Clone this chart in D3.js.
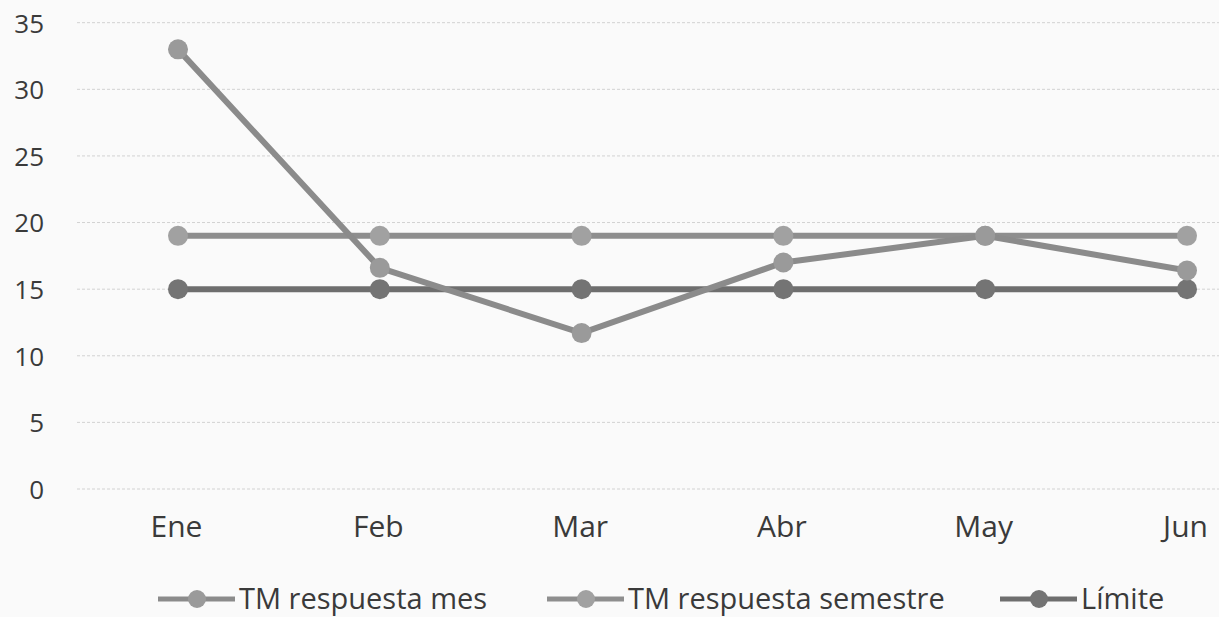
<!DOCTYPE html>
<html>
<head>
<meta charset="utf-8">
<script src="https://cdn.jsdelivr.net/npm/d3@7"></script>
<style>
  body { margin: 0; background: #fafafa; }
  svg { display: block; }
  .tick-text { font-family: "Open Sans", sans-serif; fill: #3a3a3a; }
</style>
</head>
<body>
<svg id="chart" width="1219" height="617"></svg>
<script>
const months = [ "Ene", "Feb", "Mar", "Abr", "May", "Jun" ];
const mesValues = [ 33, 16.6, 11.7, 17, 19, 16.4 ];
const semestreValues = [ 19, 19, 19, 19, 19, 19 ];
const limiteValues = [ 15, 15, 15, 15, 15, 15 ];
const yTicks = [ 0, 5, 10, 15, 20, 25, 30, 35 ];
const seriesNames = [ "TM respuesta mes", "TM respuesta semestre", "Límite" ];

const series = [
    { name: seriesNames[ 0 ], values: mesValues, line: "#8b8b8b", dot: "#9a9a9a" },
    { name: seriesNames[ 1 ], values: semestreValues, line: "#8e8e8e", dot: "#a1a1a1" },
    { name: seriesNames[ 2 ], values: limiteValues, line: "#6e6e6e", dot: "#747474" }
];

const svg = d3.select( "#chart" );

const x = d3.scalePoint()
    .domain( months )
    .range( [ 178, 1187 ] );

const y = d3.scaleLinear()
    .domain( [ 0, 35 ] )
    .range( [ 489, 22.7 ] );

// gridlines
svg.append( "g" )
    .selectAll( "line" )
    .data( yTicks )
    .enter()
    .append( "line" )
    .attr( "x1", 77 )
    .attr( "x2", 1219 )
    .attr( "y1", d => y( d ) )
    .attr( "y2", d => y( d ) )
    .attr( "stroke", "#d2d2d2" )
    .attr( "stroke-width", 1 )
    .attr( "stroke-dasharray", "3,2" );

// y labels
const yAxis = d3.axisLeft( y ).tickValues( yTicks ).tickSize( 0 ).tickPadding( 0 );
const gy = svg.append( "g" )
    .attr( "transform", "translate(44,1)" )
    .call( yAxis );
gy.select( ".domain" ).remove();
gy.selectAll( "text" )
    .attr( "class", "tick-text" )
    .style( "font-size", "26px" );

// x labels
const xAxis = d3.axisBottom( x ).tickSize( 0 ).tickPadding( 0 );
const gx = svg.append( "g" )
    .attr( "transform", "translate(-2,516)" )
    .call( xAxis );
gx.select( ".domain" ).remove();
gx.selectAll( "text" )
    .attr( "class", "tick-text" )
    .style( "font-size", "30px" );

const line = d3.line()
    .x( ( d, i ) => x( months[ i ] ) )
    .y( d => y( d ) );

const order = [ 2, 1, 0 ];
order.forEach( k => {
    const s = series[ k ];
    const g = svg.append( "g" );
    g.append( "path" )
        .attr( "d", line( s.values ) )
        .attr( "fill", "none" )
        .attr( "stroke", s.line )
        .attr( "stroke-width", 6 );
    g.selectAll( "circle" )
        .data( s.values )
        .enter()
        .append( "circle" )
        .attr( "cx", ( d, i ) => x( months[ i ] ) )
        .attr( "cy", d => y( d ) )
        .attr( "r", 10 )
        .attr( "fill", s.dot );
} );

// legend
const legendX = [ 158, 547, 1000 ];
const legend = svg.append( "g" )
    .selectAll( "g" )
    .data( series )
    .enter()
    .append( "g" )
    .attr( "transform", ( d, i ) => `translate(${legendX[ i ]},599)` );
legend.append( "line" )
    .attr( "x1", 0 ).attr( "x2", 77 )
    .attr( "stroke", d => d.line )
    .attr( "stroke-width", 5 );
legend.append( "circle" )
    .attr( "cx", 39 )
    .attr( "r", 9 )
    .attr( "fill", d => d.dot );
legend.append( "text" )
    .attr( "class", "tick-text" )
    .attr( "x", 81 )
    .attr( "dy", "0.35em" )
    .style( "font-size", "29px" )
    .text( d => d.name );
</script>
</body>
</html>
